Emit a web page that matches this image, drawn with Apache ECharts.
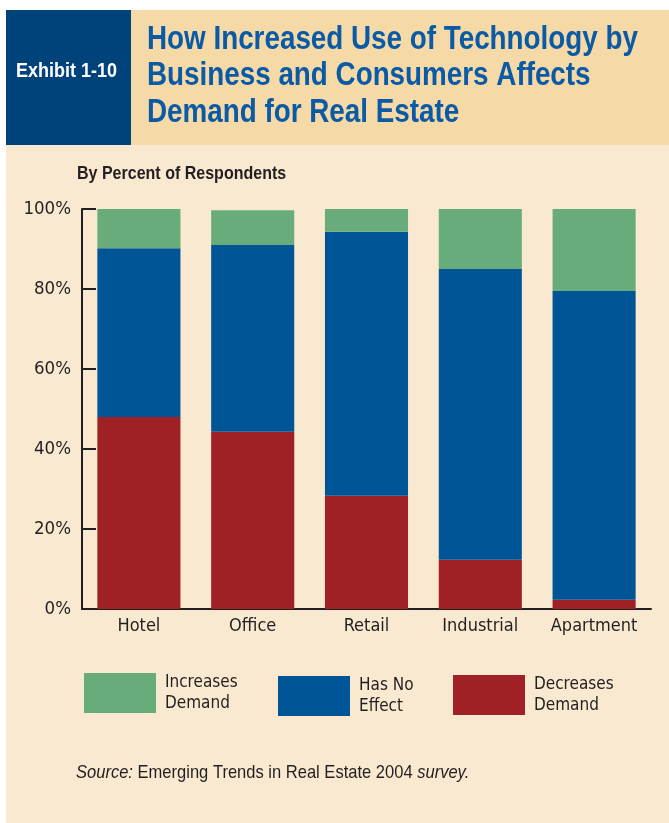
<!DOCTYPE html>
<html>
<head>
<meta charset="utf-8">
<script src="https://cdn.jsdelivr.net/npm/echarts@6/dist/echarts.min.js"></script>
<style>
  html, body { margin: 0; padding: 0; background: #ffffff; }
  #chart { width: 669px; height: 823px; }
</style>
</head>
<body>
<div id="chart"></div>
<script>
const categories = ['Hotel', 'Office', 'Retail', 'Industrial', 'Apartment']
const decreases = [48, 44.3, 28.3, 12.3, 2.3]
const noEffect = [42.2, 46.7, 66, 72.7, 77.2]
const increases = [9.8, 8.7, 5.7, 15, 20.5]
const yTicks = [0, 20, 40, 60, 80, 100]

// no narrow Helvetica here: condensed DejaVu for axis/legend, squeezed Liberation for headings
const COND = '"DejaVu Sans Condensed", "Liberation Sans", sans-serif'
const SANS = '"Liberation Sans", Arial, sans-serif'
const INK = '#231f20'
const COLORS = { inc: '#69ac7b', none: '#005596', dec: '#9f2126' }
const LEGEND_TEXT = {
  'Increases Demand': 'Increases\nDemand',
  'Has No Effect': 'Has No\nEffect',
  'Decreases Demand': 'Decreases\nDemand',
}

const chart = echarts.init(document.getElementById('chart'))

function legendAt(name, left, top) {
  return {
    data: [name],
    left, top,
    padding: 0,
    itemWidth: 72,
    itemHeight: 40,
    icon: 'rect',
    selectedMode: false,
    itemStyle: { borderWidth: 0 },
    formatter: (n) => LEGEND_TEXT[n],
    textStyle: { color: INK, fontFamily: COND, fontSize: 17, lineHeight: 21, padding: [0, 0, 0, 4] },
  }
}

function heading(text, x, y, size, sx, fill, extra) {
  return {
    type: 'text', x, y, scaleX: sx,
    style: Object.assign({ text, fill, font: size + 'px ' + SANS, verticalAlign: 'middle' }, extra || {}),
  }
}

chart.setOption({
  backgroundColor: '#ffffff',
  animation: false,
  grid: { left: 82, top: 209, right: 18, bottom: 214 },
  xAxis: {
    type: 'category',
    data: categories,
    axisLine: { lineStyle: { color: INK, width: 2 } },
    axisTick: { show: false },
    axisLabel: { interval: 0, color: INK, fontFamily: COND, fontSize: 18, margin: 8 },
  },
  yAxis: {
    type: 'value',
    min: 0, max: 100, interval: 20,
    axisLine: { show: true, lineStyle: { color: INK, width: 2 } },
    axisTick: { show: true, inside: true, length: 14, lineStyle: { color: INK, width: 2 } },
    splitLine: { show: false },
    axisLabel: {
      color: INK, fontFamily: COND, fontSize: 18.5, margin: 11,
      formatter: (v) => yTicks.includes(v) ? v + '%' : '',
    },
  },
  legend: [
    legendAt('Increases Demand', 84, 672),
    legendAt('Has No Effect', 278, 675),
    legendAt('Decreases Demand', 453, 674),
  ],
  series: [
    { name: 'Decreases Demand', type: 'bar', stack: 'all', barWidth: '73%', data: decreases, itemStyle: { color: COLORS.dec } },
    { name: 'Has No Effect', type: 'bar', stack: 'all', data: noEffect, itemStyle: { color: COLORS.none } },
    { name: 'Increases Demand', type: 'bar', stack: 'all', data: increases, itemStyle: { color: COLORS.inc } },
  ],
  graphic: [
    { type: 'rect', z: -10, shape: { x: 6, y: 10, width: 663, height: 813 }, style: { fill: '#f8e9d0' } },
    { type: 'rect', z: -9, shape: { x: 131, y: 10, width: 538, height: 135 }, style: { fill: '#f5d9a6' } },
    { type: 'rect', z: -9, shape: { x: 6, y: 10, width: 125, height: 135 }, style: { fill: '#00427a' } },
    heading('Exhibit 1-10', 16, 71.5, 'bold 20', 0.9, '#ffffff'),
    heading('How Increased Use of Technology by', 147, 40, 'bold 34', 0.818, '#0a5aa5'),
    heading('Business and Consumers Affects', 147, 76, 'bold 34', 0.818, '#0a5aa5'),
    heading('Demand for Real Estate', 147, 113, 'bold 34', 0.818, '#0a5aa5'),
    heading('By Percent of Respondents', 77, 174, 'bold 18', 0.89, INK),
    heading('{i|Source:} Emerging Trends in Real Estate 2004 {i|survey.}', 76, 773, '19', 0.87, INK, {
      rich: { i: { fontStyle: 'italic', fontFamily: SANS, fontSize: 19, fill: INK } },
    }),
  ],
})
</script>
</body>
</html>
